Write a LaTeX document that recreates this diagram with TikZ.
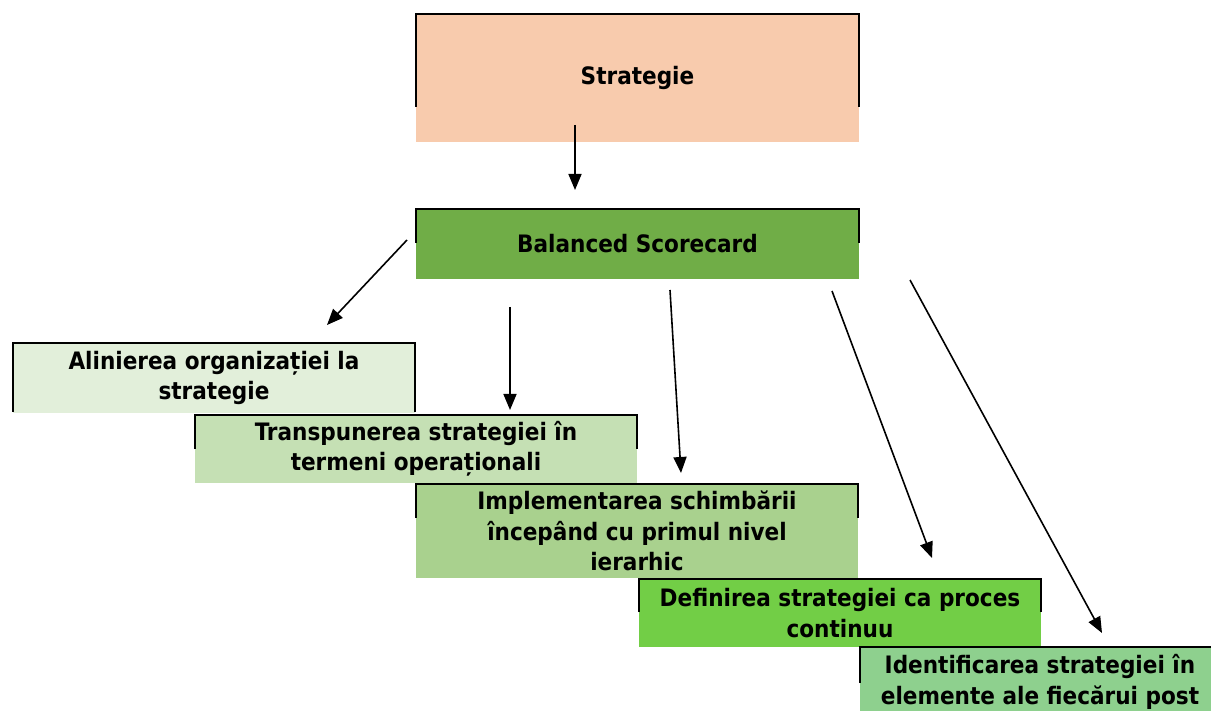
\documentclass[tikz,border=0pt]{standalone}
\usepackage{fontspec}
\setmainfont{DejaVu Sans Condensed}
\usetikzlibrary{arrows.meta}
\definecolor{peach}{HTML}{F8CBAD}
\definecolor{bsgreen}{HTML}{70AD47}
\definecolor{greenA}{HTML}{E2EFDA}
\definecolor{greenB}{HTML}{C5E0B4}
\definecolor{greenC}{HTML}{A9D18E}
\definecolor{greenD}{HTML}{72CE46}
\definecolor{greenE}{HTML}{8ED08E}
\tikzset{
  fillbox/.style={anchor=north west, inner sep=0pt, outer sep=0pt, align=center,
    font=\fontsize{24}{30.5}\selectfont\bfseries},
  frameline/.style={black, line width=2pt},
  arrowline/.style={black, line width=1.6pt, -{Triangle[length=16pt,width=13pt]}}
}
% open frame: left side, top, right side
\newcommand{\openframe}[2]{\draw[frameline] ([yshift=-#2pt]#1.north west) |- (#1.north east) -- ([yshift=-#2pt]#1.north east);}
\begin{document}
\begin{tikzpicture}[x=1pt,y=-1pt]
  \clip (0,0) rectangle (1211,711);
  % boxes
  \node[fillbox, fill=peach, minimum width=443pt, minimum height=128pt] (strat) at (416,14) {Strategie};
  \node[fillbox, fill=bsgreen, minimum width=443pt, minimum height=70pt] (bsc) at (416,209) {Balanced Scorecard};
  \node[fillbox, fill=greenA, minimum width=402pt, minimum height=70pt] (align) at (13,343) {Alinierea organizației la\\strategie};
  \node[fillbox, fill=greenB, minimum width=442pt, minimum height=68pt] (transp) at (195,415) {Transpunerea strategiei în\\termeni operaționali};
  \node[fillbox, fill=greenC, minimum width=442pt, minimum height=94pt] (impl) at (416,484) {Implementarea schimbării\\începând cu primul nivel\\ierarhic};
  \node[fillbox, fill=greenD, minimum width=402pt, minimum height=68pt] (defin) at (639,579) {Definirea strategiei ca proces\\continuu};
  \node[fillbox, fill=greenE, minimum width=360pt, minimum height=70pt] (ident) at (860,647) {Identificarea strategiei în\\elemente ale fiecărui post};
  % frames
  \openframe{strat}{93}
  \openframe{bsc}{34}
  \openframe{align}{69}
  \openframe{transp}{34}
  \openframe{impl}{34}
  \openframe{defin}{33}
  \openframe{ident}{36}
  % arrows
  \coordinate (s1) at (575,125);  \coordinate (e1) at (575,190);
  \coordinate (s2) at (407,240);  \coordinate (e2) at (327,325);
  \coordinate (s3) at (510,307);  \coordinate (e3) at (510,410);
  \coordinate (s4) at (670,290);  \coordinate (e4) at (681,473);
  \coordinate (s5) at (832,291);  \coordinate (e5) at (932,558);
  \coordinate (s6) at (910,280);  \coordinate (e6) at (1102,633);
  \draw[arrowline] (s1) -- (e1);
  \draw[arrowline] (s2) -- (e2);
  \draw[arrowline] (s3) -- (e3);
  \draw[arrowline] (s4) -- (e4);
  \draw[arrowline] (s5) -- (e5);
  \draw[arrowline] (s6) -- (e6);
\end{tikzpicture}
\end{document}
